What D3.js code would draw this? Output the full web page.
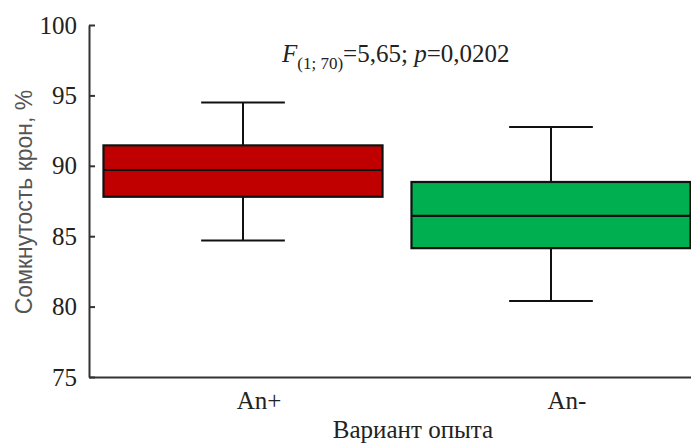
<!DOCTYPE html>
<html>
<head>
<meta charset="utf-8">
<script src="https://cdn.jsdelivr.net/npm/d3@7"></script>
<style>
  body { margin: 0; background: #fff; }
  svg { display: block; }
  .serif { font-family: "Liberation Serif", "Times New Roman", Times, serif; font-size: 25px; }
</style>
</head>
<body>
<script>
// values
const categories = ["An+", "An-"];
const whiskerLow = [84.7, 80.4];
const q1 = [87.8, 84.15];
const median = [89.7, 86.45];
const q3 = [91.45, 88.85];
const whiskerHigh = [94.5, 92.75];
const boxColours = ["#c00000", "#00b050"];
const yTicks = [75, 80, 85, 90, 95, 100];

const width = 691, height = 445;

const svg = d3.select("body").append("svg")
    .attr("width", width)
    .attr("height", height)
    .attr("viewBox", [0, 0, width, height]);

// the plot runs past the right edge of the picture, as in the original
const x = d3.scaleBand()
    .domain(categories)
    .range([89, 705])
    .paddingInner(0.094)
    .paddingOuter(0.047);

const y = d3.scaleLinear()
    .domain([75, 100])
    .range([377, 25]);

const rows = categories.map((c, i) => ({
  cat: c, lo: whiskerLow[i], q1: q1[i], med: median[i], q3: q3[i], hi: whiskerHigh[i], fill: boxColours[i]
}));

const g = svg.append("g")
  .selectAll("g")
  .data(rows)
  .join("g")
    .attr("transform", d => `translate(${x(d.cat)}, 0)`);

const bw = x.bandwidth();
const capW = bw * 0.3;

// whiskers
g.append("line")
    .attr("x1", bw / 2).attr("x2", bw / 2)
    .attr("y1", d => y(d.hi)).attr("y2", d => y(d.lo))
    .attr("stroke", "#111").attr("stroke-width", 2);

g.selectAll("line.cap")
  .data(d => [d.lo, d.hi])
  .join("line")
    .attr("class", "cap")
    .attr("x1", bw / 2 - capW / 2).attr("x2", bw / 2 + capW / 2)
    .attr("y1", d => y(d)).attr("y2", d => y(d))
    .attr("stroke", "#111").attr("stroke-width", 2);

// boxes
g.append("rect")
    .attr("x", 0)
    .attr("width", bw)
    .attr("y", d => y(d.q3))
    .attr("height", d => y(d.q1) - y(d.q3))
    .attr("fill", d => d.fill)
    .attr("stroke", "#111")
    .attr("stroke-width", 2.2);

g.append("line")
    .attr("x1", 0).attr("x2", bw)
    .attr("y1", d => y(d.med)).attr("y2", d => y(d.med))
    .attr("stroke", "#111").attr("stroke-width", 2.2);

// y axis, ticks point inward
const yAxis = svg.append("g")
    .attr("transform", "translate(89,0)")
    .attr("font-family", null)
    .attr("font-size", null)
    .call(d3.axisLeft(y).tickValues(yTicks).tickSizeInner(-6).tickSizeOuter(0).tickPadding(12));

yAxis.attr("font-family", null).attr("font-size", null);
yAxis.select(".domain").attr("stroke", "#333").attr("stroke-width", 2);
yAxis.selectAll(".tick line").attr("stroke", "#333").attr("stroke-width", 2);
yAxis.selectAll(".tick text")
    .attr("class", "serif")
    .attr("fill", "#222");

// x axis
const xAxis = svg.append("g")
    .attr("transform", "translate(0,377)")
    .call(d3.axisBottom(x).tickSize(0).tickPadding(14));

xAxis.attr("font-family", null).attr("font-size", null);
xAxis.select(".domain").attr("stroke", "#333").attr("stroke-width", 2);
xAxis.selectAll(".tick text")
    .attr("class", "serif")
    .attr("dx", 16)
    .attr("fill", "#222");

// axis titles
svg.append("text")
    .attr("class", "serif")
    .attr("x", 413)
    .attr("y", 438)
    .attr("text-anchor", "middle")
    .attr("fill", "#222")
    .text("Вариант опыта");

svg.append("text")
    .attr("transform", "translate(32,202) rotate(-90)")
    .attr("text-anchor", "middle")
    .attr("font-family", "'Liberation Sans', Arial, sans-serif")
    .attr("font-size", 23)
    .attr("fill", "#555")
    .text("Сомкнутость крон, %");

// test statistic
const stat = svg.append("text")
    .attr("class", "serif")
    .attr("x", 282)
    .attr("y", 62)
    .attr("fill", "#222");

stat.append("tspan").style("font-style", "italic").text("F");
stat.append("tspan").attr("dy", 7).style("font-size", "17px").text("(1; 70)");
stat.append("tspan").attr("dy", -7).text("=5,65; ");
stat.append("tspan").style("font-style", "italic").text("p");
stat.append("tspan").text("=0,0202");
</script>
</body>
</html>
